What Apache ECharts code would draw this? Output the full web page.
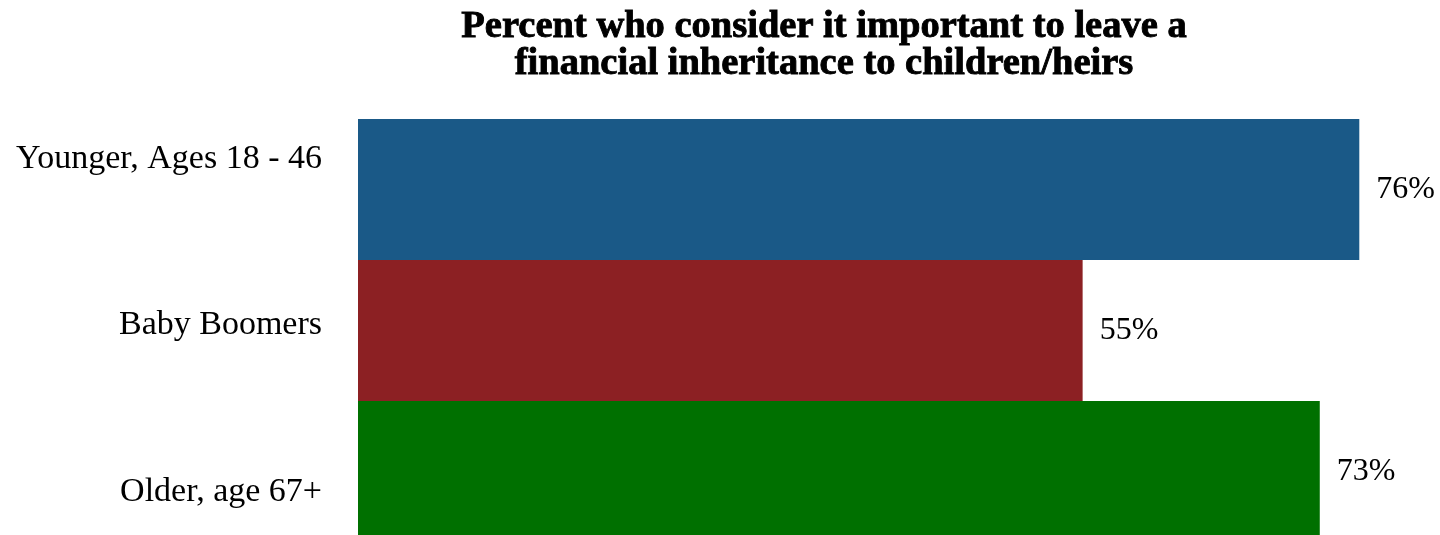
<!DOCTYPE html>
<html>
<head>
<meta charset="utf-8">
<script src="https://cdn.jsdelivr.net/npm/echarts@6/dist/echarts.min.js"></script>
<style>
  html, body { margin: 0; padding: 0; background: #ffffff; }
  #chart { width: 1440px; height: 535px; }
</style>
</head>
<body>
<div id="chart"></div>
<script>
// Survey groups and the share of each that considers an inheritance important
const titleLines = ['Percent who consider it important to leave a', 'financial inheritance to children/heirs'];
const groups = ['Younger, Ages 18 - 46', 'Baby Boomers', 'Older, age 67+'];
const percents = [76, 55, 73];
const barColors = ['#1a5987', '#8c2023', '#007000'];

// Vertical nudges for the group labels (px, negative = up)
const labelShift = [-30, -5, 21];

const serif = '"Liberation Serif", "Times New Roman", serif';

// One rich style per group label, each carrying its own nudge
const labelRich = {};
labelShift.forEach((s, i) => {
  labelRich['g' + i] = {
    fontFamily: serif,
    fontSize: 34,
    color: '#000000',
    padding: s < 0 ? [0, 0, -2 * s, 0] : [2 * s, 0, 0, 0]
  };
});

const chart = echarts.init(document.getElementById('chart'), null, { renderer: 'canvas' });

chart.setOption({
  backgroundColor: '#ffffff',
  animation: false,
  graphic: [{
    type: 'text',
    x: 824,
    y: 9,
    style: {
      text: titleLines.join('\n'),
      font: 'bold 38.5px ' + serif,
      lineHeight: 37,
      fill: '#000000',
      stroke: '#000000',
      lineWidth: 0.9,
      align: 'center',
      verticalAlign: 'top'
    }
  }],
  grid: {
    left: 358,
    top: 119,
    width: 1054,
    height: 423,
    outerBoundsMode: 'none',
    containLabel: false
  },
  xAxis: {
    type: 'value',
    min: 0,
    max: 80,
    show: false
  },
  yAxis: {
    type: 'category',
    inverse: true,
    data: groups,
    axisLine: { show: false },
    axisTick: { show: false },
    splitLine: { show: false },
    axisLabel: {
      margin: 36,
      color: '#000000',
      fontFamily: serif,
      fontSize: 34,
      formatter: (value, index) => '{g' + index + '|' + value + '}',
      rich: labelRich
    }
  },
  series: [{
    type: 'bar',
    barCategoryGap: 0,
    data: percents.map((v, i) => ({ value: v, itemStyle: { color: barColors[i] } })),
    label: {
      show: true,
      position: 'right',
      distance: 17,
      formatter: '{c}%',
      color: '#000000',
      fontFamily: serif,
      fontSize: 32
    }
  }]
});
</script>
</body>
</html>
